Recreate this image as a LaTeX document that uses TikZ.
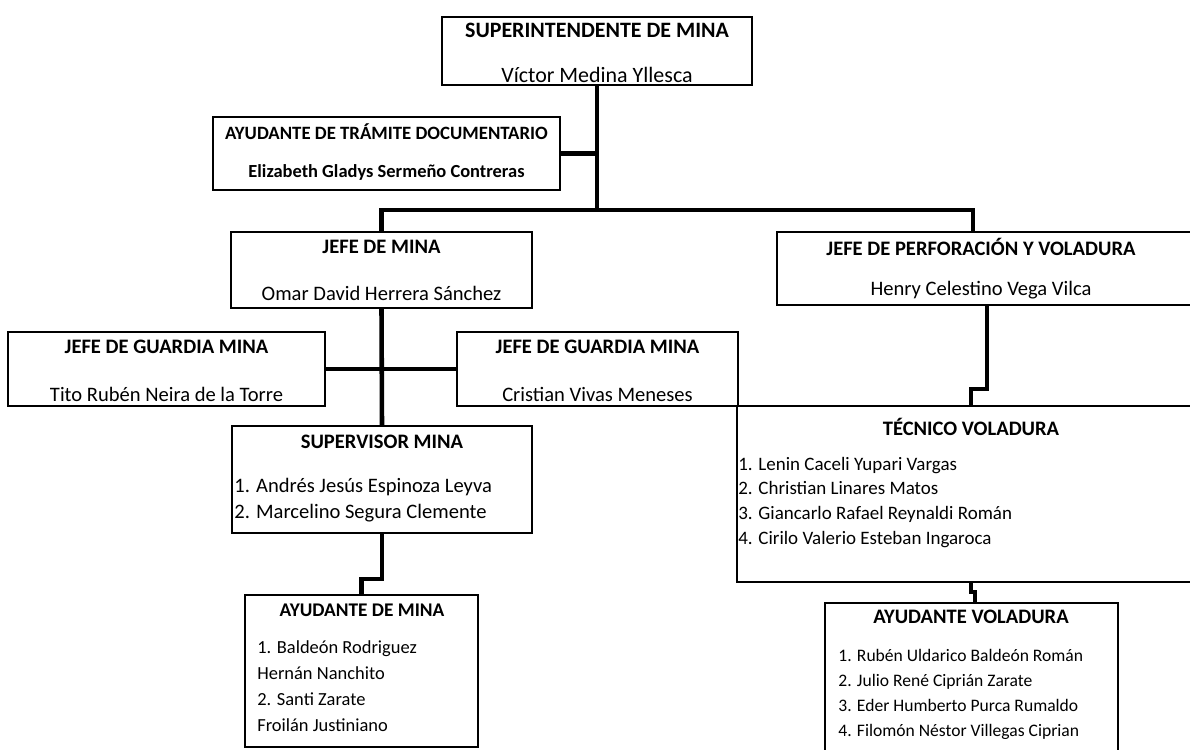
\documentclass[tikz,border=0pt]{standalone}
\usepackage{fontspec}
\setmainfont{Carlito}
\usetikzlibrary{positioning}

\begin{document}
\begin{tikzpicture}[x=0.02cm,y=-0.02cm,font=\fontsize{11.7}{14}\selectfont,
  caja/.style={draw,line width=1pt,inner sep=0pt},
  tit/.style={font=\fontsize{11.7}{14}\selectfont\bfseries,inner sep=0pt},
  nom/.style={inner sep=0pt},
  item/.style={anchor=base west,inner sep=0pt},
  rama/.style={line width=2.6pt}]
\useasboundingbox (0,0) rectangle (1190,750);
\clip (0,0) rectangle (1190,750);

% cajas
\node[caja,minimum width=6.2cm,minimum height=1.36cm] (sup) at (597,51) {};
\node[caja,minimum width=6.94cm,minimum height=1.46cm] (tram) at (386.5,153.5) {};
\node[caja,minimum width=6.02cm,minimum height=1.52cm] (jmina) at (381.5,270) {};
\node[caja,minimum width=8.3cm,minimum height=1.46cm] (jperf) at (984.5,268.5) {};
\node[caja,minimum width=6.34cm,minimum height=1.48cm] (guard1) at (166.5,369) {};
\node[caja,minimum width=5.62cm,minimum height=1.48cm] (guard2) at (597.5,369) {};
\node[caja,minimum width=6cm,minimum height=2.14cm] (supmina) at (382,479.5) {};
\node[caja,minimum width=4.66cm,minimum height=3.04cm] (aymina) at (361.5,671) {};
\node[caja,minimum width=9.36cm,minimum height=3.52cm] (tecvol) at (971,494) {};
\node[caja,minimum width=5.86cm,minimum height=3.04cm] (ayvol) at (971.5,679) {};

% textos
\node[tit,font=\fontsize{12.5}{15}\selectfont\bfseries] (supT) at (597,30) {SUPERINTENDENTE DE MINA};
\node[nom,font=\fontsize{12.5}{15}\selectfont] (supN) at (597,75) {Víctor Medina Yllesca};
\node[tit,font=\fontsize{10.7}{12}\selectfont\bfseries] (tramT) at (386.5,132) {AYUDANTE DE TRÁMITE DOCUMENTARIO};
\node[nom,font=\fontsize{10.5}{12}\selectfont\bfseries] (tramN) at (386.5,172) {Elizabeth Gladys Sermeño Contreras};
\node[tit] (jminaT) at (381.5,247) {JEFE DE MINA};
\node[nom] (jminaN) at (381.5,293) {Omar David Herrera Sánchez};
\node[tit] (jperfT) at (981,247) {JEFE DE PERFORACIÓN Y VOLADURA};
\node[nom] (jperfN) at (981,290) {Henry Celestino Vega Vilca};
\node[tit] (guard1T) at (166.5,347) {JEFE DE GUARDIA MINA};
\node[nom] (guard1N) at (166.5,394) {Tito Rubén Neira de la Torre};
\node[tit] (guard2T) at (597.5,347) {JEFE DE GUARDIA MINA};
\node[nom] (guard2N) at (597.5,394) {Cristian Vivas Meneses};
\node[tit] (supminaT) at (382,442) {SUPERVISOR MINA};
\node[tit,font=\fontsize{11}{13}\selectfont\bfseries] (ayminaT) at (362,610) {AYUDANTE DE MINA};
\node[tit] (tecvolT) at (971,427) {TÉCNICO VOLADURA};
\node[tit] (ayvolT) at (971,617) {AYUDANTE VOLADURA};

% listas
\foreach \t [count=\i] in {1. Andrés Jesús Espinoza Leyva,2. Marcelino Segura Clemente}
  \node[item] (supmina-\i) at (234,{492+26*(\i-1)}) {\t};
\foreach \t [count=\i] in {1. Baldeón Rodriguez,Hernán Nanchito,2. Santi Zarate,Froilán Justiniano}
  \node[item,font=\fontsize{10.5}{12}\selectfont] (aymina-\i) at (257,{653+26.3*(\i-1)}) {\t};
\foreach \t [count=\i] in {1. Lenin Caceli Yupari Vargas,2. Christian Linares Matos,3. Giancarlo Rafael Reynaldi Román,4. Cirilo Valerio Esteban Ingaroca}
  \node[item,font=\fontsize{10.8}{13}\selectfont] (tecvol-\i) at (738,{470+24.7*(\i-1)}) {\t};
\foreach \t [count=\i] in {1. Rubén Uldarico Baldeón Román,2. Julio René Ciprián Zarate,3. Eder Humberto Purca Rumaldo,4. Filomón Néstor Villegas Ciprian}
  \node[item,font=\fontsize{10}{12}\selectfont] (ayvol-\i) at (838,{661+25.3*(\i-1)}) {\t};

% lineas
\coordinate (tronco) at (597,210);
\coordinate (codo) at (973,210);
\draw[rama] (sup.south) -- (tronco);
\draw[rama] (tram.east) -- (tram.east -| tronco);
\draw[rama] (jmina.north) |- (tronco) -- (codo) -- (codo |- jperf.north);
\draw[rama] (jmina.south) -- (supmina.north);
\draw[rama] (guard1.east) -- (guard2.west);
\draw[rama] (supmina.south) -- ++(0,45) -| (aymina.north);
\draw[rama] ([xshift=0.05cm]jperf.south) -- ++(0,83) -| (tecvol.north);
\draw[rama] (tecvol.south) -- ++(0,9) -- ++(4,0) |- (ayvol.north -| 975,0);
\end{tikzpicture}
\end{document}
